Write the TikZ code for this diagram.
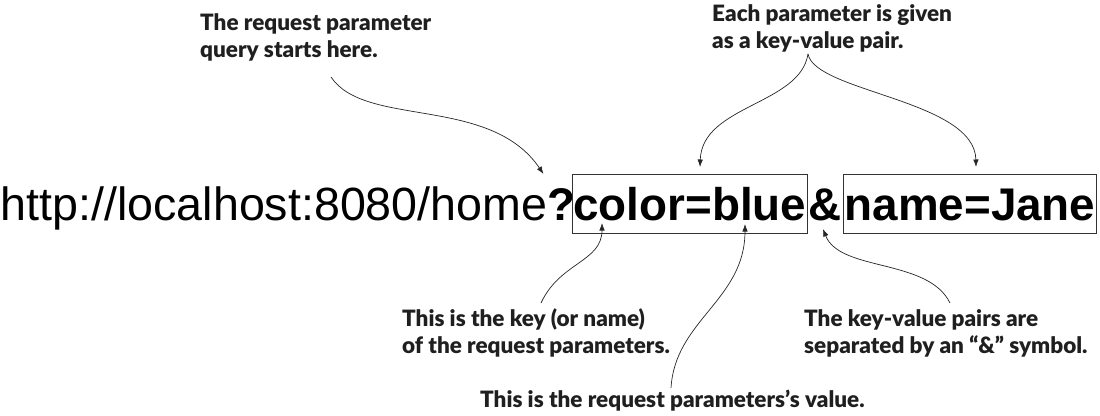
\documentclass[tikz,border=0pt]{standalone}
\usepackage{fontspec}
\usetikzlibrary{arrows.meta}
\newfontfamily\urlf{Liberation Sans}
\newfontfamily\labf{Lato}[BoldFont={Lato Black}]
\tikzset{
  lab/.style={font=\labf\bfseries\fontsize{22.5}{26.5}\selectfont, align=left, inner sep=0pt, anchor=base west, text=black!88},
  urlt/.style={font=\urlf\fontsize{46.6}{55}\selectfont, inner sep=0pt, anchor=base west, text=black},
  urlb/.style={font=\urlf\bfseries\fontsize{45.8}{55}\selectfont, inner sep=0pt, anchor=base west, text=black},
  kvbox/.style={draw=black!80, line width=1.4pt, font=\urlf\bfseries\fontsize{45.8}{55}\selectfont, inner xsep=1pt, inner ysep=0pt, text height=45.5pt, text depth=13.5pt, anchor=base west},
  ptr/.style={draw=black!85, line width=0.7pt, -{Latex[length=7.5pt,width=5.5pt]}}
}
\begin{document}
\begin{tikzpicture}[x=1pt,y=-1pt]
\useasboundingbox (0,0) rectangle (1100,415);
% main line
\node[urlt] (url) at (0.5,220) {http://localhost:8080/home};
\node[urlb] (q) at (url.base east) {?};
\node[kvbox] (kv1) at (571.7,220) {color=blue};
\node[urlb] (amp) at ([xshift=0.5pt]kv1.base east) {\&};
\node[kvbox] (kv2) at ([xshift=1pt]amp.base east) {name=Jane};
% labels (base = baseline of last line)
\node[lab] (l1) at (200,57) {The request parameter\\query starts here.};
\node[lab] (l2) at (712,48) {Each parameter is given\\as a key-value pair.};
\node[lab] (l3) at (402,353) {This is the key (or name)\\of the request parameters.};
\node[lab] (l4) at (480,407) {This is the request parameters’s value.};
\node[lab] (l5) at (804,353) {The key-value pairs are\\separated by an “\&” symbol.};
% connector ends
\coordinate (s1) at (331,77);
\coordinate (e1) at (543.5,174);
\coordinate (s2) at (808,54);
\coordinate (e2a) at (700,167);
\coordinate (e2b) at (976,167);
\coordinate (s3) at (541,303);
\coordinate (e3) at (602,223);
\coordinate (s4) at (671,388);
\coordinate (e4) at (745,224);
\coordinate (s5) at (950,303);
\coordinate (e5) at (823,229);
% connectors
\draw[ptr] (s1) .. controls (365,128) and (490,95) .. (e1);
\draw[ptr] (s2) .. controls (800,105) and (702,105) .. (e2a);
\draw[ptr] (s2) .. controls (815,92) and (975,100) .. (e2b);
\draw[ptr] (s3) .. controls (560,262) and (602,262) .. (e3);
\draw[ptr] (s4) .. controls (675,320) and (745,300) .. (e4);
\draw[ptr] (s5) .. controls (928,258) and (840,272) .. (e5);
\end{tikzpicture}
\end{document}
